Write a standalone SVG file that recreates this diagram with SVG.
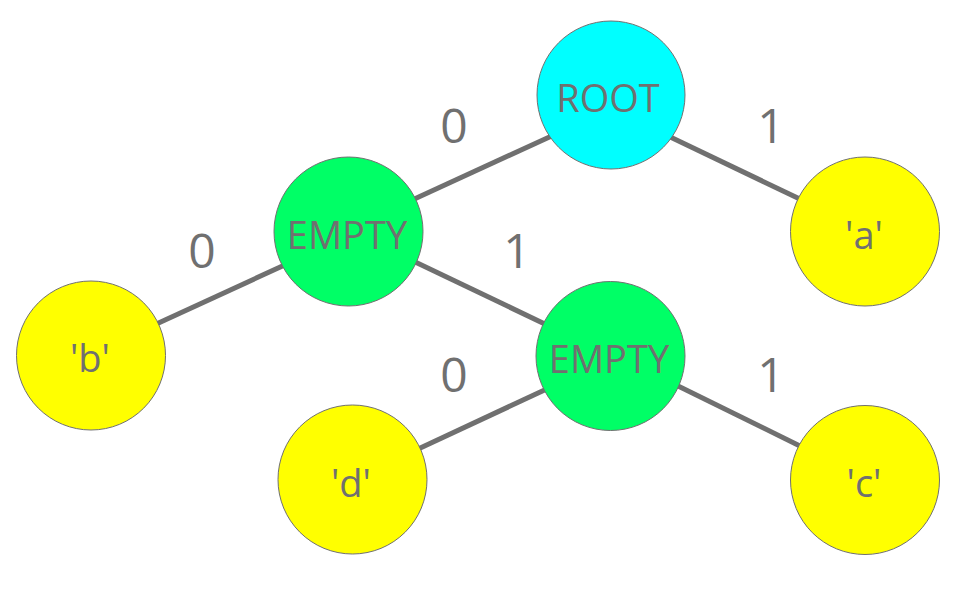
<svg xmlns="http://www.w3.org/2000/svg" width="963" height="610" viewBox="0 0 963 610">
<style>
.edge{stroke:#707070;stroke-width:5;stroke-linecap:butt;fill:none}
.node{stroke:#707070;stroke-width:1}
.root{fill:#00FFFF}
.empty{fill:#00FF66}
.leaf{fill:#FFFF00}
.t{font-family:"Open Sans","Noto Sans","Liberation Sans",sans-serif;font-size:38px;fill:#707070;text-anchor:middle}
.lbl{font-family:"Open Sans","Noto Sans","Liberation Sans",sans-serif;font-size:48px;fill:#707070;text-anchor:middle}
</style>
<rect width="963" height="610" fill="#FFFFFF"/>
<g id="connectors">
<line class="edge" x1="410" y1="201" x2="556" y2="134"/>
<line class="edge" x1="664" y1="134" x2="804" y2="201"/>
<line class="edge" x1="289" y1="263" x2="152" y2="326"/>
<line class="edge" x1="411" y1="260" x2="549" y2="326"/>
<line class="edge" x1="551" y1="387" x2="416" y2="450"/>
<line class="edge" x1="674" y1="384" x2="804" y2="448"/>
</g>
<g id="edge-labels">
<text class="lbl" x="454" y="143">0</text>
<text class="lbl" x="771" y="143">1</text>
<text class="lbl" x="202" y="268">0</text>
<text class="lbl" x="517" y="268">1</text>
<text class="lbl" x="454" y="392">0</text>
<text class="lbl" x="771" y="392">1</text>
</g>
<g id="root">
<circle class="node root" cx="611" cy="95" r="74"/>
<text class="t" x="608" y="112">ROOT</text>
</g>
<g id="empty1">
<circle class="node empty" cx="348.5" cy="231.5" r="74.5"/>
<text class="t" x="347" y="249">EMPTY</text>
</g>
<g id="leaf-a">
<circle class="node leaf" cx="865" cy="231.5" r="74.5"/>
<text class="t" x="864" y="249">'a'</text>
</g>
<g id="leaf-b">
<circle class="node leaf" cx="91" cy="355.5" r="74.5"/>
<text class="t" x="90" y="372">'b'</text>
</g>
<g id="empty2">
<circle class="node empty" cx="610.5" cy="356" r="74.5"/>
<text class="t" x="609" y="373">EMPTY</text>
</g>
<g id="leaf-d">
<circle class="node leaf" cx="352.5" cy="479.5" r="74.5"/>
<text class="t" x="351" y="497">'d'</text>
</g>
<g id="leaf-c">
<circle class="node leaf" cx="865" cy="480" r="74.5"/>
<text class="t" x="864" y="497">'c'</text>
</g>
</svg>
